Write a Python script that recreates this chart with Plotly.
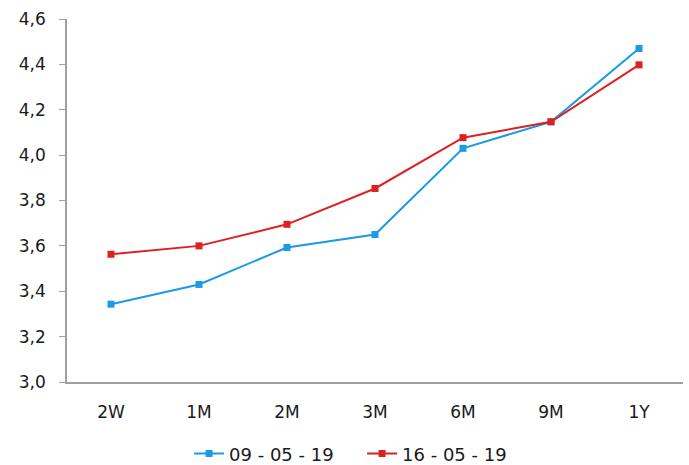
import plotly.graph_objects as go

# Tenors and yields for the two curve dates
tenors = ["2W", "1M", "2M", "3M", "6M", "9M", "1Y"]
curve_0905 = [3.343, 3.43, 3.593, 3.65, 4.03, 4.147, 4.47]
curve_1605 = [3.563, 3.60, 3.695, 3.853, 4.077, 4.147, 4.398]
y_ticks = [3.0, 3.2, 3.4, 3.6, 3.8, 4.0, 4.2, 4.4, 4.6]

blue = "#1a9be6"
red = "#dd2020"

fig = go.Figure()
fig.add_trace(go.Scatter(
    x=tenors, y=curve_0905, name="09 - 05 - 19", mode="lines+markers",
    line=dict(color=blue, width=2), marker=dict(symbol="square", size=7, color=blue),
))
fig.add_trace(go.Scatter(
    x=tenors, y=curve_1605, name="16 - 05 - 19", mode="lines+markers",
    line=dict(color=red, width=2), marker=dict(symbol="square", size=7, color=red),
))

fig.update_layout(
    width=689, height=465,
    margin=dict(l=67, r=6, t=19, b=83, autoexpand=False),
    paper_bgcolor="white", plot_bgcolor="white",
    separators=",.",
    font=dict(family="DejaVu Sans", size=17, color="#1a1a1a"),
    showlegend=True,
    legend=dict(orientation="h", x=0.479, xanchor="center", y=-0.198, yanchor="middle",
                font=dict(size=18), itemwidth=30, tracegroupgap=0,
                entrywidth=128, entrywidthmode="pixels"),
    xaxis=dict(type="category", showgrid=False, showline=True, linecolor="#a0a0a0",
               linewidth=1.5, ticks="", tickfont=dict(size=17), ticklabelstandoff=14,
               range=[-0.5, 6.5]),
    yaxis=dict(range=[3.0, 4.6], tickvals=y_ticks, tickformat=".1f", showgrid=False,
               showline=True, linecolor="#a0a0a0", linewidth=1.5, ticks="outside",
               ticklen=6, tickcolor="#a0a0a0", tickfont=dict(size=17),
               ticklabelstandoff=10, zeroline=False),
)

fig.write_html("out.html")
